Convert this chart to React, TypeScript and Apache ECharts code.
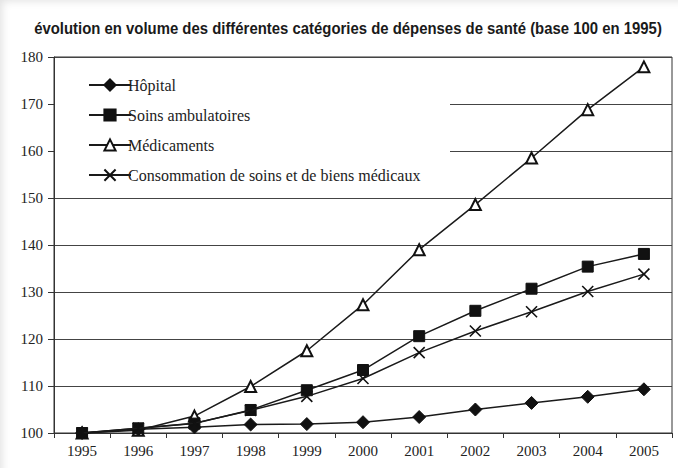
import React, { useEffect, useRef } from "react";
import * as echarts from "echarts";

const years = ["1995", "1996", "1997", "1998", "1999", "2000", "2001", "2002", "2003", "2004", "2005"];
const hopital = [100, 100.8, 101.2, 101.8, 101.9, 102.3, 103.4, 105.0, 106.4, 107.7, 109.3];
const soinsAmbulatoires = [100, 101.0, 102.0, 104.9, 109.1, 113.4, 120.6, 126.0, 130.7, 135.4, 138.1];
const medicaments = [100, 100.6, 103.6, 109.9, 117.5, 127.3, 139.0, 148.6, 158.5, 168.8, 177.9];
const consommation = [100, 101.0, 102.1, 104.8, 107.8, 111.6, 117.1, 121.7, 125.8, 130.1, 133.8];
const seriesNames = ["Hôpital", "Soins ambulatoires", "Médicaments", "Consommation de soins et de biens médicaux"];
const titleText = "évolution en volume des différentes catégories de dépenses de santé (base 100 en 1995)";

const X_PATH = "path://M0,0L10,10M10,0L0,10";
const SERIF = "Liberation Serif, Times New Roman, serif";

export default function App() {
  const ref = useRef<HTMLDivElement>(null);
  useEffect(() => {
    if (!ref.current) return;
    const chart = echarts.init(ref.current, null, { renderer: "svg" });
    const lineStyle = { color: "#1a1a1a", width: 1.5 };
    chart.setOption({
      animation: false,
      backgroundColor: "#ffffff",
      grid: {
        left: 54,
        right: 6,
        top: 57,
        bottom: 35,
        show: true,
        borderColor: "#333",
        borderWidth: 1,
        backgroundColor: "transparent",
      },
      legend: {
        orient: "vertical",
        left: 83,
        top: 72,
        itemWidth: 42,
        itemHeight: 14,
        itemGap: 14,
        textStyle: {
          fontFamily: SERIF,
          fontSize: 16,
          color: "#222",
          padding: [0, 0, 0, -8],
        },
        data: seriesNames,
      },
      graphic: [
        {
          type: "rect",
          z: 1,
          shape: { x: 55, y: 59, width: 395, height: 137 },
          style: { fill: "#ffffff" },
          silent: true,
        },
        {
          type: "text",
          x: 348,
          y: 28,
          scaleX: 0.932,
          style: {
            text: titleText,
            textAlign: "center",
            textVerticalAlign: "middle",
            fontFamily: "Liberation Sans, Arial, sans-serif",
            fontWeight: "bold",
            fontSize: 16,
            fill: "#1a1a1a",
          },
        },
      ],
      xAxis: {
        type: "category",
        data: years,
        boundaryGap: true,
        axisLine: { lineStyle: { color: "#333", width: 1 } },
        axisTick: { show: true, length: 5, lineStyle: { color: "#333" } },
        axisLabel: {
          fontFamily: SERIF,
          fontSize: 15,
          color: "#222",
          margin: 10,
        },
        splitLine: { show: false },
      },
      yAxis: {
        type: "value",
        min: 100,
        max: 180,
        interval: 10,
        axisLine: { show: true, lineStyle: { color: "#333", width: 1 } },
        axisTick: { show: true, inside: false, length: 6, lineStyle: { color: "#333" } },
        axisLabel: {
          fontFamily: SERIF,
          fontSize: 15,
          color: "#222",
          margin: 11,
        },
        splitLine: { show: true, lineStyle: { color: "#444", width: 1 } },
      },
      series: [
        {
          name: seriesNames[0],
          type: "line",
          data: hopital,
          z: 5,
          symbol: "diamond",
          symbolSize: 13,
          lineStyle,
          itemStyle: { color: "#111", borderColor: "#111", borderWidth: 1 },
        },
        {
          name: seriesNames[1],
          type: "line",
          data: soinsAmbulatoires,
          z: 4,
          symbol: "rect",
          symbolSize: 11,
          lineStyle,
          itemStyle: { color: "#111", borderColor: "#111", borderWidth: 1 },
        },
        {
          name: seriesNames[2],
          type: "line",
          data: medicaments,
          z: 3,
          symbol: "triangle",
          symbolSize: 11,
          lineStyle,
          itemStyle: { color: "#ffffff", borderColor: "#111", borderWidth: 2 },
        },
        {
          name: seriesNames[3],
          type: "line",
          data: consommation,
          z: 6,
          symbol: X_PATH,
          symbolSize: 11,
          lineStyle,
          itemStyle: { color: "none", borderColor: "#111", borderWidth: 1.6 },
        },
      ],
    });
    return () => chart.dispose();
  }, []);
  return (
    <div style={{ position: "fixed", left: 0, top: 0, width: 678, height: 468, background: "#fff" }}>
      <div ref={ref} style={{ width: 678, height: 468 }} />
      <div
        style={{
          position: "absolute",
          left: 0,
          top: 0,
          width: 678,
          height: 468,
          pointerEvents: "none",
          boxShadow: "inset 7px 6px 8px -5px rgba(0,0,0,0.12)",
        }}
      />
    </div>
  );
}
